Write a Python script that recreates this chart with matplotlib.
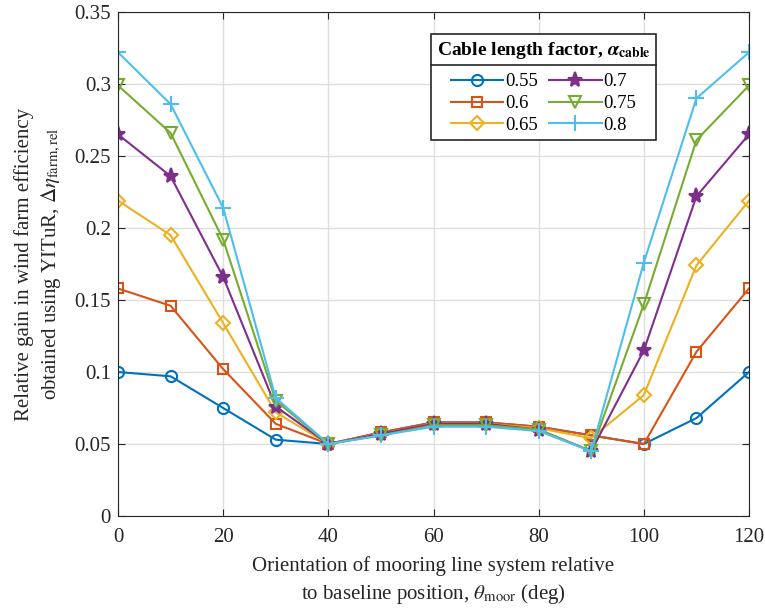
import numpy as np
import matplotlib.pyplot as plt
from matplotlib.lines import Line2D

plt.rcParams['font.family'] = ['Liberation Serif', 'DejaVu Serif']
plt.rcParams['mathtext.fontset'] = 'stix'

theta = [0, 10, 20, 30, 40, 50, 60, 70, 80, 90, 100, 110, 120]
factors = ['0.55', '0.6', '0.65', '0.7', '0.75', '0.8']

g055 = [0.100, 0.097, 0.075, 0.053, 0.050, 0.058, 0.065, 0.065, 0.062, 0.056, 0.050, 0.068, 0.100]
g060 = [0.158, 0.146, 0.102, 0.064, 0.050, 0.058, 0.065, 0.065, 0.062, 0.056, 0.050, 0.114, 0.158]
g065 = [0.219, 0.195, 0.134, 0.072, 0.050, 0.057, 0.064, 0.064, 0.061, 0.054, 0.084, 0.174, 0.219]
g070 = [0.265, 0.236, 0.166, 0.076, 0.050, 0.057, 0.064, 0.064, 0.060, 0.045, 0.115, 0.222, 0.265]
g075 = [0.299, 0.266, 0.192, 0.080, 0.050, 0.056, 0.063, 0.063, 0.060, 0.045, 0.147, 0.261, 0.299]
g080 = [0.322, 0.286, 0.214, 0.082, 0.050, 0.056, 0.062, 0.062, 0.059, 0.045, 0.176, 0.290, 0.322]
gains = [g055, g060, g065, g070, g075, g080]

colors = ['#0072BD', '#D95319', '#EDB120', '#7E2F8E', '#77AC30', '#4DBEEE']
markers = ['o', 's', 'D', '*', 'v', '+']
msizes = [8, 7, 7, 11, 8, 11]

fig = plt.figure(figsize=(7.65, 6.14), dpi=100)
ax = fig.add_axes([118/765, 1 - 516/614, (749-118)/765, (516-12)/614])

for g, lab, c, m, ms in zip(gains, factors, colors, markers, msizes):
    fill = c if m == '*' else 'none'
    ax.plot(theta, g, color=c, marker=m, ms=ms, mfc=fill, mec=c, mew=1.5, lw=1.5, label=lab)

ax.set_xlim(0, 120)
ax.set_ylim(0, 0.35)
ax.set_xticks(np.arange(0, 121, 20))
ax.set_yticks(np.arange(0, 0.351, 0.05))
ax.set_yticklabels(['0', '0.05', '0.1', '0.15', '0.2', '0.25', '0.3', '0.35'])
ax.grid(True, color='#dfdfdf', lw=1)
ax.set_axisbelow(True)
ax.tick_params(direction='in', top=True, right=True, labelsize=15, length=5, color='#262626',
               labelcolor='#262626')
ax.tick_params(axis='x', pad=9)
ax.tick_params(axis='y', pad=5)
for s in ax.spines.values():
    s.set_color('#262626')

ax.set_xlabel('Orientation of mooring line system relative\nto baseline position, $\\theta_{\\rm moor}$ (deg)',
              fontsize=15, color='#262626', labelpad=6, linespacing=1.35)
ax.set_ylabel('Relative gain in wind farm efficiency\nobtained using YITuR, $\\Delta\\eta_{\\rm farm,rel}$',
              fontsize=15, color='#262626', labelpad=8, linespacing=1.35)

leg = ax.legend(ncol=2, loc='upper right', bbox_to_anchor=(0.8526, 0.956), borderaxespad=0,
                fontsize=13.5,
                title='Cable length factor, $\\boldsymbol{\\alpha}_{\\bf cable}$',
                title_fontproperties={'weight': 'bold', 'size': 14},
                fancybox=False, edgecolor='#262626', framealpha=1,
                handlelength=2.8, columnspacing=0.6, handletextpad=0.1, labelspacing=0.25,
                borderpad=0.3)
leg.get_frame().set_linewidth(1.2)
leg._legend_box.sep = 9

# separator line under the legend title
fig.canvas.draw()
r = fig.canvas.get_renderer()
lb = leg.get_window_extent(r)
tb = leg.get_title().get_window_extent(r)
ysep = tb.y0 - 4
fig.add_artist(Line2D([lb.x0, lb.x1], [ysep, ysep], transform=None, color='#262626', lw=1.2))

fig.savefig('out.png', dpi=100)
